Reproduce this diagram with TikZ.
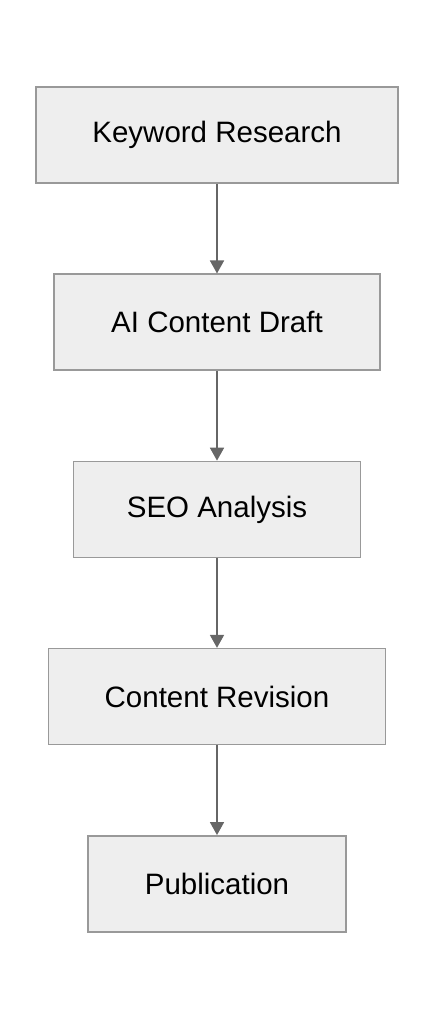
\documentclass[tikz,border=0pt]{standalone}
\usepackage{fontspec}
\setmainfont{Liberation Sans}
\usetikzlibrary{arrows.meta,positioning}
\definecolor{boxfill}{RGB}{238,238,238}
\definecolor{boxline}{RGB}{153,153,153}
\definecolor{flowgray}{RGB}{102,102,102}

\begin{document}
\begin{tikzpicture}[
  x=1pt,y=-1pt,
  every node/.style={font=\fontsize{29.5}{35}\selectfont},
  stage/.style={draw=boxline,line width=1.5pt,fill=boxfill,minimum height=96pt,inner xsep=0pt,align=center},
  flow/.style={-{Triangle[width=14pt,length=13pt]},line width=1.8pt,flowgray}
]
\useasboundingbox (0,0) rectangle (434,1020);
\node[stage,minimum width=362pt] (kw) at (217,135) {Keyword Research};
\node[stage,minimum width=326pt,below=89.7pt of kw] (ai) {AI Content Draft};
\node[stage,minimum width=287pt,below=89.7pt of ai] (seo) {SEO Analysis};
\node[stage,minimum width=337pt,below=89.7pt of seo] (rev) {Content Revision};
\node[stage,minimum width=258pt,below=89.7pt of rev] (pub) {Publication};

\draw[flow] (kw) -- (ai);
\draw[flow] (ai) -- (seo);
\draw[flow] (seo) -- (rev);
\draw[flow] (rev) -- (pub);
\end{tikzpicture}
\end{document}
